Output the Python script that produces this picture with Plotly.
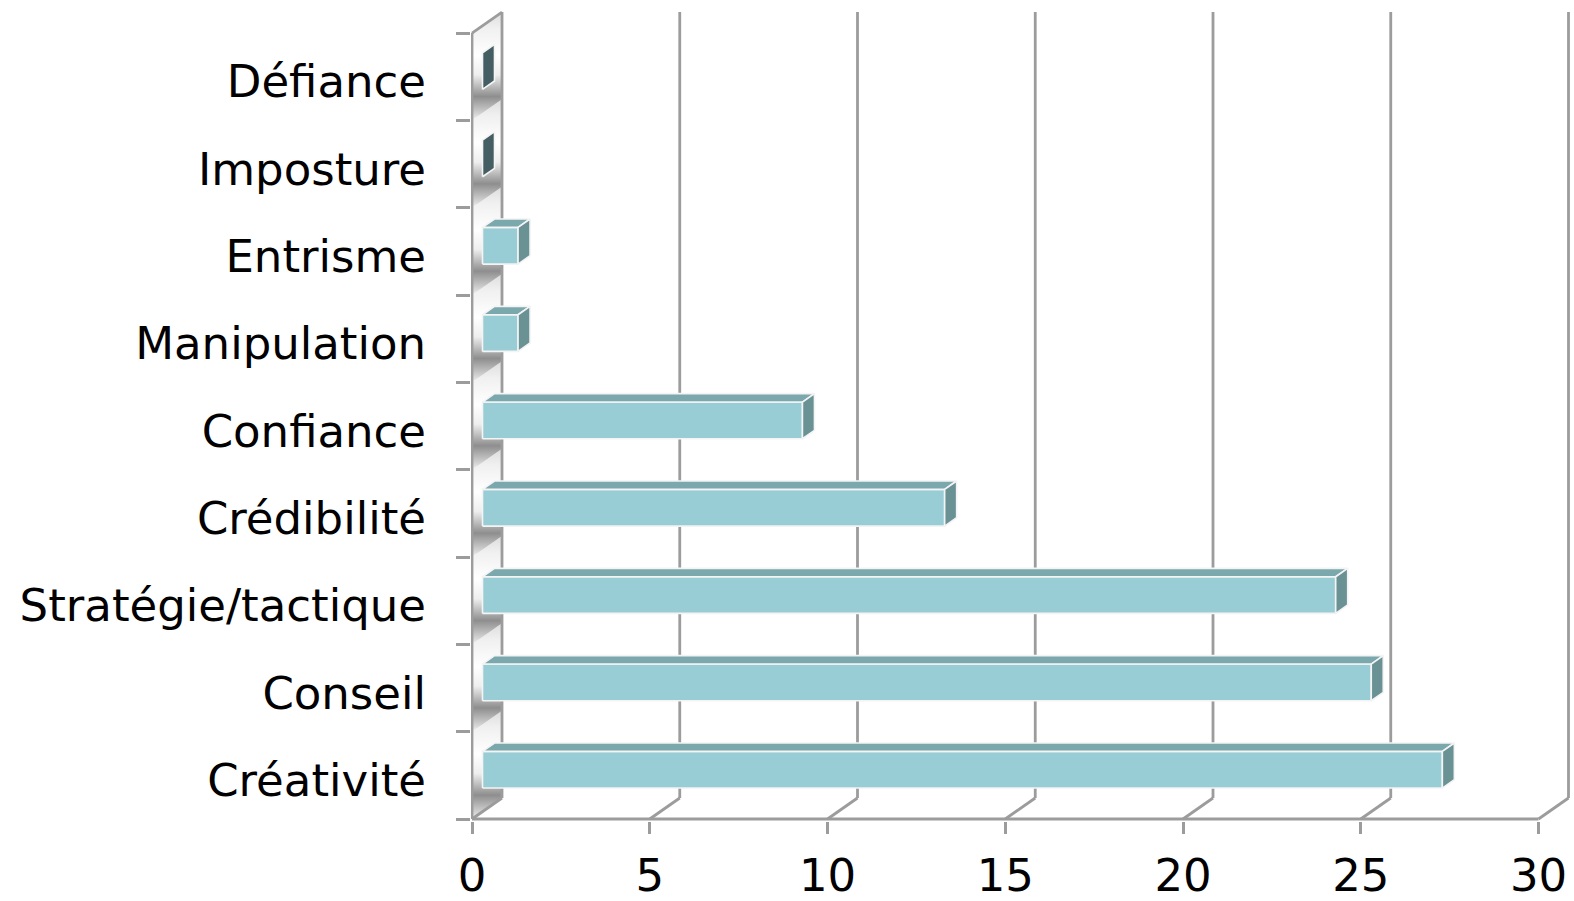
import plotly.graph_objects as go

# ---------------- data ----------------
categories = ["Créativité", "Conseil", "Stratégie/tactique", "Crédibilité", "Confiance",
              "Manipulation", "Entrisme", "Imposture", "Défiance"]
values = [27, 25, 24, 13, 9, 1, 1, 0, 0]
x_ticks = [0, 5, 10, 15, 20, 25, 30]

# ---------------- geometry / style ----------------
W, H = 1574, 901
KX, KY = 35.55, 87.33            # px per data unit (x, category)
DX, DY = 30 / KX, 21 / KY        # full depth offset in data units
F1, F2 = 0.35, 0.75              # bar depth (fraction of full depth)
BAR_C, BAR_H = 0.48, 0.42        # bar centre inside band, bar height
LABEL_SHIFT = -0.055
ML, MB, MT = 471, 80, 8
XMIN = (ML - 472) / KX
XMAX = XMIN + (W - ML) / KX
YMIN = -((H - MB) - 819) / KY
YMAX = YMIN + (H - MB - MT) / KY

GRID = "#9C9C9C"
LW = 2.8
FRONT = "#98CDD6"
TOP = "#7AA8AD"
SIDE = "#6A9295"
ZERO_SIDE = "#455E64"
EDGE = "#F4F4F4"
FONT = "DejaVu Sans"

n = len(categories)
fig = go.Figure()

# ---- side wall (left), shaded per band ----
for i in range(n):
    fig.add_trace(go.Scatter(
        x=[0, DX, DX, 0, 0], y=[i, i + DY, i + 1 + DY, i + 1, i],
        mode="lines", line=dict(width=0), fill="toself",
        fillgradient=dict(type="vertical",
                          colorscale=[[0, "#f4f4f4"], [0.05, "#d8d8d8"], [0.22, "#8e8e8e"],
                                      [0.42, "#eeeeee"], [0.6, "#ffffff"], [0.85, "#f0f0f0"],
                                      [1, "#dddddd"]]),
        hoverinfo="skip", showlegend=False))

# ---- grid lines on back wall + floor slants ----
gx, gy = [], []
for t in x_ticks:
    gx += [t, t + DX, None]
    gy += [0, DY, None]
    if t > 0:
        gx += [t + DX, t + DX, None]
        gy += [DY, n + DY, None]
# wall edges and front axis lines
gx += [DX, DX, None, 0, DX, None, 0, 0, None, 0, x_ticks[-1], None]
gy += [DY, n + DY, None, n, n + DY, None, 0, n, None, 0, 0, None]
fig.add_trace(go.Scatter(x=gx, y=gy, mode="lines", line=dict(color=GRID, width=LW),
                         hoverinfo="skip", showlegend=False))

# ---- 3D bars ----
xf, yf = F1 * DX, F1 * DY
bdx, bdy = (F2 - F1) * DX, (F2 - F1) * DY
for i, v in enumerate(values):
    yb = i + BAR_C - BAR_H / 2 + yf
    yt = i + BAR_C + BAR_H / 2 + yf
    x0 = xf
    x1 = xf + v
    faces = []
    if v > 0:
        faces.append(([x0, x1, x1, x0, x0], [yb, yb, yt, yt, yb], FRONT))
        faces.append(([x0, x1, x1 + bdx, x0 + bdx, x0], [yt, yt, yt + bdy, yt + bdy, yt], TOP))
        side_col = SIDE
    else:
        side_col = ZERO_SIDE
    faces.append(([x1, x1 + bdx, x1 + bdx, x1, x1], [yb, yb + bdy, yt + bdy, yt, yb], side_col))
    for fx, fy, col in faces:
        fig.add_trace(go.Scatter(x=fx, y=fy, mode="lines", fill="toself", fillcolor=col,
                                 line=dict(color=EDGE, width=1.6),
                                 hoverinfo="skip", showlegend=False))

fig.update_layout(
    width=W, height=H, autosize=False,
    margin=dict(l=ML, r=0, t=MT, b=MB, pad=0, autoexpand=False),
    paper_bgcolor="white", plot_bgcolor="white",
    showlegend=False,
    xaxis=dict(range=[XMIN, XMAX], showgrid=False, zeroline=False, showline=False,
               automargin=False,
               tickmode="array", tickvals=x_ticks, ticktext=[str(t) for t in x_ticks],
               ticks="outside", ticklen=12, tickwidth=LW, tickcolor=GRID,
               ticklabelstandoff=3,
               tickfont=dict(family=FONT, size=45, color="black"), fixedrange=True),
    yaxis=dict(range=[YMIN, YMAX], showgrid=False, zeroline=False, showline=False,
               automargin=False,
               tickmode="array", tickvals=[i + 0.5 + LABEL_SHIFT for i in range(n)],
               ticktext=categories,
               ticks="", ticklabelstandoff=44,
               minor=dict(tickmode="array", tickvals=list(range(n + 1)), ticks="outside",
                          ticklen=14, tickwidth=LW, tickcolor=GRID, showgrid=False),
               tickfont=dict(family=FONT, size=45, color="black"), fixedrange=True),
)

fig.write_html("out.html")
